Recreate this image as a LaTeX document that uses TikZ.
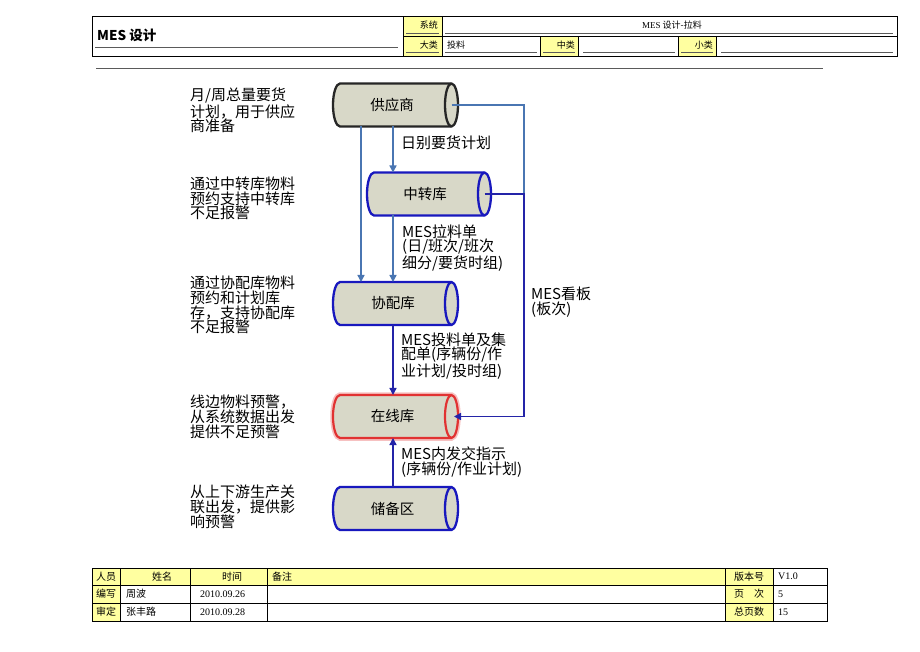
\documentclass[tikz,border=0pt]{standalone}
\usepackage{fontspec}
\setmainfont{Liberation Serif}
\newfontfamily\cjk{Noto Sans CJK SC}
\usetikzlibrary{arrows.meta,backgrounds}
\definecolor{hdryellow}{RGB}{255,255,160}
\definecolor{cylfill}{RGB}{216,216,200}
\definecolor{conAc}{RGB}{74,118,178}
\definecolor{conBc}{RGB}{36,36,168}
\definecolor{cylblue}{RGB}{24,24,190}
\definecolor{cylred}{RGB}{225,50,50}
\definecolor{lineg}{RGB}{90,90,90}
\newcommand\cylshape[2]{%
  \path[#2] ([xshift=7pt]#1.north west) -- ([xshift=-6.5pt]#1.north east)
    arc[start angle=90,end angle=-90,x radius=6.5pt,y radius=21.5pt]
    -- ([xshift=7pt]#1.south west)
    arc[start angle=270,end angle=90,x radius=7pt,y radius=21.5pt] -- cycle;
  \path[#2,fill=none] ([xshift=-6.5pt]#1.north east)
    arc[start angle=90,end angle=270,x radius=6.5pt,y radius=21.5pt];}
\begin{document}
\begin{tikzpicture}[x=1pt,y=1pt,
  cylnode/.style={rectangle,inner sep=0pt,outer sep=0pt,minimum width=125pt,minimum height=43pt,font=\cjk\fontsize{14.5}{15}\selectfont},
  lbl/.style={anchor=west,align=left,inner sep=0pt,font=\cjk\fontsize{15}{14.8}\selectfont},
  conA/.style={draw=conAc,line width=1.4pt},
  conB/.style={draw=conBc,line width=1.4pt},
  arr/.style={-{Triangle[length=7pt,width=7pt]}},
  tsmall/.style={inner sep=0pt,font=\cjk\fontsize{9}{10}\selectfont},
  tfoot/.style={inner sep=0pt,font=\cjk\fontsize{10}{11}\selectfont},
  tlat/.style={inner sep=0pt,font=\rmfamily\fontsize{10}{11}\selectfont},
  uline/.style={draw=lineg,line width=0.6pt},
  grid/.style={draw=black,line width=0.6pt}]
\useasboundingbox (0,0) rectangle (920,651);
\begin{scope}[on background layer]
  \fill[white] (0,0) rectangle (920,651);
\end{scope}

% ---------- header ----------
\fill[hdryellow] (403,615) rectangle (442,635);
\fill[hdryellow] (403,595) rectangle (442,615);
\fill[hdryellow] (540,595) rectangle (578,615);
\fill[hdryellow] (678,595) rectangle (716,615);
\draw[line width=0.9pt] (92,595) rectangle (897,635);
\draw[grid] (403,615) -- (897,615);
\draw[grid] (403,595) -- (403,635) (442,595) -- (442,635);
\draw[grid] (540,595) -- (540,615) (578,595) -- (578,615) (678,595) -- (678,615) (716,595) -- (716,615);
\draw[uline] (95,604) -- (398,604);
\draw[uline] (406,618) -- (439,618) (445,618) -- (893,618);
\draw[uline] (406,598.5) -- (439,598.5) (445,598.5) -- (537,598.5) (543,598.5) -- (575,598.5)
  (583,598.5) -- (675,598.5) (681,598.5) -- (713,598.5) (721,598.5) -- (893,598.5);
\node[inner sep=0pt,anchor=west,font=\cjk\bfseries\fontsize{13.5}{14}\selectfont] (title) at (97,616) {MES 设计};
\node[tsmall,anchor=east] (hs) at (438,625.5) {系统};
\node[tsmall] (hm) at (672,625.5) {{\rmfamily MES} 设计-拉料};
\node[tsmall,anchor=east] (hd) at (438,605.5) {大类};
\node[tsmall,anchor=west] (ht) at (447,605.5) {投料};
\node[tsmall,anchor=east] (hz) at (575,605.5) {中类};
\node[tsmall,anchor=east] (hx) at (713,605.5) {小类};
\draw[draw=lineg,line width=0.8pt] (96,583) -- (823,583);

% ---------- footer ----------
\fill[hdryellow] (92,66) rectangle (773,83);
\fill[hdryellow] (92,30) rectangle (120,66);
\fill[hdryellow] (725,30) rectangle (773,66);
\draw[line width=0.9pt] (92,30) rectangle (827,83);
\draw[grid] (92,66) -- (827,66) (92,48) -- (827,48);
\foreach \xx in {120,190,267,725,773} \draw[grid] (\xx,30) -- (\xx,83);
\node[tfoot] (f11) at (106,74.5) {人员};
\node[tfoot] (f12) at (162,74.5) {姓名};
\node[tfoot] (f13) at (232,74.5) {时间};
\node[tfoot,anchor=west] (f14) at (272,74.5) {备注};
\node[tfoot] (f15) at (749,74.5) {版本号};
\node[tlat,anchor=west] (f16) at (778,74.5) {V1.0};
\node[tfoot] (f21) at (106,57) {编写};
\node[tfoot,anchor=west] (f22) at (126,57) {周波};
\node[tlat,anchor=west] (f23) at (200,57) {2010.09.26};
\node[tfoot] (f25) at (749,57) {页\hspace{10pt}次};
\node[tlat,anchor=west] (f26) at (778,57) {5};
\node[tfoot] (f31) at (106,39) {审定};
\node[tfoot,anchor=west] (f32) at (126,39) {张丰路};
\node[tlat,anchor=west] (f33) at (200,39) {2010.09.28};
\node[tfoot] (f35) at (749,39) {总页数};
\node[tlat,anchor=west] (f36) at (778,39) {15};

% ---------- diagram ----------
\node[cylnode] (sup) at (395.5,546) {\hspace*{-7pt}供应商};
\node[cylnode,minimum width=124pt] (zz) at (429,457) {\hspace*{-8pt}中转库};
\node[cylnode] (xie) at (395.5,347.5) {\hspace*{-5pt}协配库};
\node[cylnode] (zx) at (395.5,234.5) {\hspace*{-6pt}在线库};
\node[cylnode] (cb) at (395.5,142.5) {\hspace*{-6pt}储备区};
\begin{scope}[on background layer]
  \cylshape{sup}{draw=black!85,fill=cylfill,line width=2.3pt}
  \cylshape{zz}{draw=cylblue,fill=cylfill,line width=2.3pt}
  \cylshape{xie}{draw=cylblue,fill=cylfill,line width=2.3pt}
  \cylshape{zx}{draw=cylred!30,line width=5.5pt}
  \cylshape{zx}{draw=cylred,fill=cylfill,line width=2.2pt}
  \cylshape{cb}{draw=cylblue,fill=cylfill,line width=2.3pt}
\end{scope}

\coordinate (xa) at (361,0);
\coordinate (xb) at (393,0);
\coordinate (supE) at ([xshift=-6.5pt]sup.east);
\coordinate (zzE) at ([xshift=-6.5pt]zz.east);
\coordinate (zxE) at ([xshift=-4pt]zx.east);
\coordinate (jn) at (524,457);

\draw[conA,arr] (sup.south -| xa) -- (xie.north -| xa);
\draw[conA,arr] (sup.south -| xb) -- (zz.north -| xb);
\draw[conA,arr] (zz.south -| xb) -- (xie.north -| xb);
\draw[conB,arr] (xie.south -| xb) -- (zx.north -| xb);
\draw[conB,arr] (cb.north -| xb) -- (zx.south -| xb);
\draw[conA] (supE) -| (jn);
\draw[conB,arr] (zzE) -- (jn) |- (zxE);

\node[lbl] (l1) at (401,508) {日别要货计划};
\node[lbl] (l2) at (402,403) {MES拉料单\\(日/班次/班次\\细分/要货时组)};
\node[lbl] (l3) at (401,295) {MES投料单及集\\配单(序辆份/作\\业计划/投时组)};
\node[lbl] (l4) at (401,188.5) {MES内发交指示\\(序辆份/作业计划)};
\node[lbl] (l5) at (531,348.5) {MES看板\\(板次)};

\node[lbl] (n1) at (190,540.5) {月/周总量要货\\计划，用于供应\\商准备};
\node[lbl] (n2) at (190,452.5) {通过中转库物料\\预约支持中转库\\不足报警};
\node[lbl] (n3) at (190,346) {通过协配库物料\\预约和计划库\\存，支持协配库\\不足报警};
\node[lbl] (n4) at (190,234.5) {线边物料预警，\\从系统数据出发\\提供不足预警};
\node[lbl] (n5) at (190,144.5) {从上下游生产关\\联出发，提供影\\响预警};
\end{tikzpicture}
\end{document}
